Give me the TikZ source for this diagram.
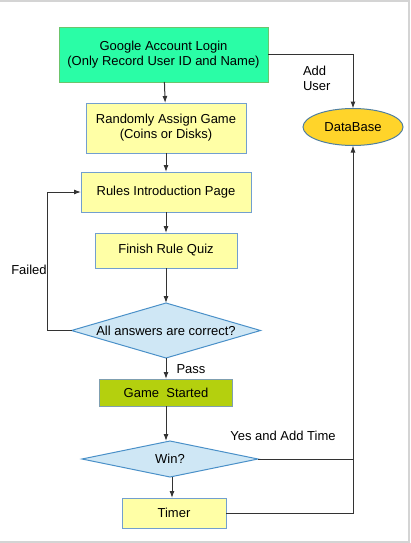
\documentclass[tikz,border=0pt]{standalone}
\usepackage{fontspec}
\setmainfont{Liberation Sans}
\usetikzlibrary{positioning,shapes.geometric,arrows.meta}
\definecolor{logingreen}{HTML}{2AFDA6}
\definecolor{loginedge}{HTML}{6CC46C}
\definecolor{boxyellow}{HTML}{FFFFA6}
\definecolor{boxblue}{HTML}{729FCF}
\definecolor{dbyellow}{HTML}{FFD42A}
\definecolor{dbedge}{HTML}{4F7FA0}
\definecolor{startgreen}{HTML}{B4D00E}
\definecolor{startedge}{HTML}{7F9FB0}
\definecolor{askblue}{HTML}{CFE7F5}
\definecolor{askedge}{HTML}{4A90C8}
\definecolor{linegray}{HTML}{333333}
\definecolor{framegray}{HTML}{D4D4D4}
\tikzset{
  box/.style={draw=boxblue, fill=boxyellow, line width=1pt},
  decision/.style={diamond, aspect=3.4, draw=askedge, fill=askblue, line width=1pt},
  link/.style={draw=linegray, line width=1pt},
  flow/.style={link, -{Latex[length=7pt,width=5pt]}},
}
\begin{document}
\begin{tikzpicture}[x=1pt, y=-1pt,
  font=\fontsize{13}{15}\selectfont,
  every node/.style={inner sep=0pt, outer sep=0pt, align=center}]
\useasboundingbox (0,0) rectangle (411,543);
\draw[framegray, line width=1.5pt] (0,1) -- (409,1) -- (409,542) -- (0,542);

% main column
\node[draw=loginedge, fill=logingreen, line width=1pt,
      minimum width=209pt, minimum height=54pt] (login) at (163.5,55)
      {Google Account Login\\(Only Record User ID and Name)};
\node[box, below=21pt of login, xshift=2.5pt,
      minimum width=160pt, minimum height=50pt] (assign)
      {Randomly Assign Game\\(Coins or Disks)};
\node[box, below=19pt of assign, minimum width=170pt, minimum height=40pt] (rules)
      {Rules Introduction Page};
\node[box, below=21pt of rules, minimum width=142pt, minimum height=35pt] (quiz)
      {Finish Rule Quiz};
\node[decision, below=35pt of quiz, minimum width=189pt, minimum height=55pt] (check)
      {All answers are correct?};
\node[draw=startedge, fill=startgreen, line width=1pt, below=21pt of check,
      minimum width=133pt, minimum height=27pt] (start) {Game\ \ Started};
\node[decision, below=35pt of start, xshift=4pt,
      minimum width=176pt, minimum height=36pt] (win) {Win?};
\node[box, below=21pt of win, xshift=4pt, minimum width=104pt, minimum height=30pt] (timer)
      {Timer};

% database
\node[ellipse, draw=dbedge, fill=dbyellow, line width=1pt,
      minimum width=100pt, minimum height=37pt] (db) at (353,127) {DataBase};

% labels
\node[anchor=west, align=left] (adduser) at (303,78) {Add\\User};
\node (failed) at (29,270) {Failed};
\node (pass) at (191,369) {Pass};
\node (yes) at (283,436) {Yes and Add Time};

% connectors
\draw[flow] (login) -- (assign);
\draw[flow] (assign) -- (rules);
\draw[flow] (rules) -- (quiz);
\draw[flow] (quiz) -- (check);
\draw[flow] (check) -- (start);
\draw[flow] (start) -- (start |- win.north);
\draw[flow] ([xshift=2pt]win.south) -- ([xshift=2pt]win.south |- timer.north);
\draw[flow] (check.west) -- ++(-24,0) |- (rules.west);
\draw[flow] (login.east) -| (db.north);
\coordinate (join) at (db.south |- win.east);
\draw[flow] (win.east) -- (join) -- (db.south);
\draw[link] (timer.east) -| (join);
\end{tikzpicture}
\end{document}
